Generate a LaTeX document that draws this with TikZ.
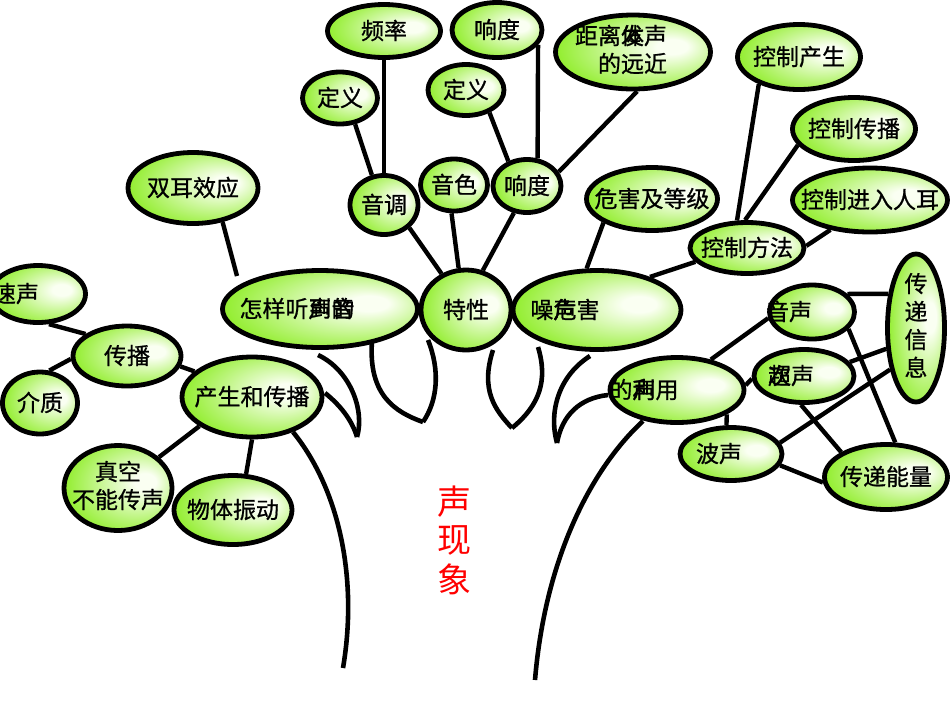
\documentclass[tikz,border=0pt]{standalone}
\usepackage{fontspec}
\setmainfont{Noto Sans CJK SC}[FakeBold=0.8]
\newfontfamily\titlefont{Noto Sans CJK SC}
\usetikzlibrary{shapes.geometric,backgrounds}
\definecolor{grn}{RGB}{148,238,50}
\definecolor{glowc}{RGB}{250,255,242}
\pgfdeclareradialshading{glow}{\pgfpoint{14bp}{4bp}}{color(0bp)=(glowc); color(5bp)=(glowc); color(30bp)=(grn); color(50bp)=(grn)}
\newcommand\tx[2][0pt]{\makebox[0pt]{\kern#1\kern#1\relax\raisebox{-0.36em}[0pt][0pt]{#2}}}
\newcommand\txm[3][0pt]{\makebox[0pt]{\kern#1\kern#1\relax\raisebox{-0.3em}[0pt][0pt]{\begin{tabular}{@{}#2@{}}#3\end{tabular}}}}
\begin{document}
\begin{tikzpicture}[x=1pt,y=-1pt,
  font=\fontsize{23}{28}\selectfont,
  bub/.style={ellipse, draw=black, line width=4.8pt, shade, shading=glow, inner sep=0pt},
  con/.style={draw=black, line width=4.4pt},
  tree/.style={draw=black, line width=4.6pt}]
\useasboundingbox (0,0) rectangle (950,713);

% ---- nodes ----
\node[bub, minimum width=113pt, minimum height=53pt] (pl) at (384,31) {\tx{频率}};
\node[bub, minimum width=90pt, minimum height=55pt] (rdT) at (497,30) {\tx{响度}};
\node[bub, minimum width=155pt, minimum height=74pt] (jl) at (633,52) {\txm[-12pt]{r}{距离\rlap{发}体声\\的远近}};
\node[bub, minimum width=75pt, minimum height=52pt] (dyL) at (340,98) {\tx{定义}};
\node[bub, minimum width=76pt, minimum height=51pt] (dyR) at (466,90) {\tx{定义}};
\node[bub, minimum width=68pt, minimum height=59pt] (yd) at (384,205) {\tx{音调}};
\node[bub, minimum width=67pt, minimum height=52pt] (ys) at (454,185) {\tx{音色}};
\node[bub, minimum width=68pt, minimum height=53pt] (rdM) at (527,186) {\tx{响度}};
\node[bub, minimum width=131pt, minimum height=63pt] (wh) at (652,199) {\tx{危害及等级}};
\node[bub, minimum width=123pt, minimum height=65pt] (kc) at (799,57) {\tx{控制产生}};
\node[bub, minimum width=123pt, minimum height=63pt] (kb) at (854,129) {\tx{控制传播}};
\node[bub, minimum width=155pt, minimum height=64pt] (kj) at (870,200) {\tx{控制进入人耳}};
\node[bub, minimum width=114pt, minimum height=51pt] (kf) at (747,248) {\tx{控制方法}};
\node[bub, minimum width=130pt, minimum height=71pt] (se) at (193,188) {\tx{双耳效应}};
\node[bub, minimum width=195pt, minimum height=77pt] (hw) at (320,309) {\tx[-23pt]{怎样听\rlap{到}声\rlap{的}音}};
\node[bub, minimum width=90pt, minimum height=80pt] (tx) at (466,310) {\tx{特性}};
\node[bub, minimum width=168pt, minimum height=79pt] (zs) at (597,310) {\tx[-32pt]{噪\rlap{声}危害}};
\node[bub, minimum width=95pt, minimum height=57pt] (sd) at (38,294) {\tx[-22pt]{速声}};
\node[bub, minimum width=108pt, minimum height=60pt] (cb) at (127,356) {\tx{传播}};
\node[bub, minimum width=75pt, minimum height=62pt] (jz) at (40,403) {\tx{介质}};
\node[bub, minimum width=140pt, minimum height=80pt] (cs) at (252,397) {\tx{产生和传播}};
\node[bub, minimum width=108pt, minimum height=85pt] (zk) at (118,488) {\txm{c}{真空\\不能传声}};
\node[bub, minimum width=118pt, minimum height=69pt] (wt) at (233,510) {\tx{物体振动}};
\node[bub, minimum width=134pt, minimum height=65pt] (ly) at (677,390) {\tx[-33pt]{的\rlap{声}利用}};
\node[bub, minimum width=85pt, minimum height=54pt] (ys2) at (812,312) {\tx[-23pt]{音声}};
\node[bub, minimum width=57pt, minimum height=148pt] (xx) at (916,328) {\txm{c}{传\\递\\信\\息}};
\node[bub, minimum width=100pt, minimum height=53pt] (cs2) at (804,376) {\tx[-13pt]{\rlap{超}次声}};
\node[bub, minimum width=102pt, minimum height=53pt] (bs) at (731,454) {\tx[-12pt]{波声}};
\node[bub, minimum width=123pt, minimum height=65pt] (nl) at (886,477) {\tx{传递能量}};
\node[text=red, font=\titlefont\fontsize{34}{38}\selectfont] (title) at (454,545) {\begin{tabular}{@{}c@{}}声\\现\\象\end{tabular}};
\coordinate (seend) at (237,276);

% ---- connectors, trunk and leaves ----
\begin{pgfonlayer}{background}
\draw[con] (pl.south) -- (yd.north);
\draw[con] (dyL.-60) -- (yd.112);
\draw[con] (rdT.-20) -- (rdM.69);
\draw[con] (dyR.-44) -- (rdM.127);
\draw[con] (jl.-84) -- (rdM.24);
\draw[con] (yd.-42) -- (tx.124);
\draw[con] (ys.-95) -- (tx.100);
\draw[con] (rdM.-116) -- (tx.67);
\draw[con] (wh.-154) -- (zs.104);
\draw[con] (kc.-146) -- (kf.110);
\draw[con] (kb.-164) -- (kf.94);
\draw[con] (kj.-143) -- (kf.2);
\draw[con] (kf.-165) -- (zs.32);
\draw[con] (se.-49) -- (seend);
\draw[con] (sd.-70) -- (cb.152);
\draw[con] (cb.-177) -- (jz.74);
\draw[con] (cb.-11) -- (cs.156);
\draw[con] (cs.-151) -- (zk.37);
\draw[con] (cs.-90) -- (wt.70);
\draw[con] (ly.42) -- (ys2.-172);
\draw[con] (ly.4) -- (cs2.-177);
\draw[con] (ly.-26) -- (bs.99);
\draw[con] (ys2.27) -- (xx.129);
\draw[con] (ys2.-25) -- (nl.75);
\draw[con] (cs2.17) -- (xx.-145);
\draw[con] (cs2.-96) -- (nl.151);
\draw[con] (bs.13) -- (xx.-122);
\draw[con] (bs.-13) -- (nl.-175);
% trunk
\draw[tree] (293,432) .. controls (340,490) and (358,580) .. (343,668);
\draw[tree] (643,421) .. controls (590,470) and (545,560) .. (535,680);
% leaves
\draw[tree] (318,355) .. controls (350,370) and (365,410) .. (357,437);
\draw[tree] (325,393) .. controls (340,405) and (352,420) .. (357,437);
\draw[tree] (372,341) .. controls (368,395) and (395,412) .. (423,422);
\draw[tree] (428,340) .. controls (440,370) and (438,400) .. (423,422);
\draw[tree] (493,350) .. controls (480,390) and (495,410) .. (512,428);
\draw[tree] (538,347) .. controls (548,380) and (540,405) .. (512,428);
\draw[tree] (590,356) .. controls (560,375) and (548,410) .. (557,443);
\draw[tree] (608,395) .. controls (580,398) and (562,415) .. (557,443);
\end{pgfonlayer}
\end{tikzpicture}
\end{document}
